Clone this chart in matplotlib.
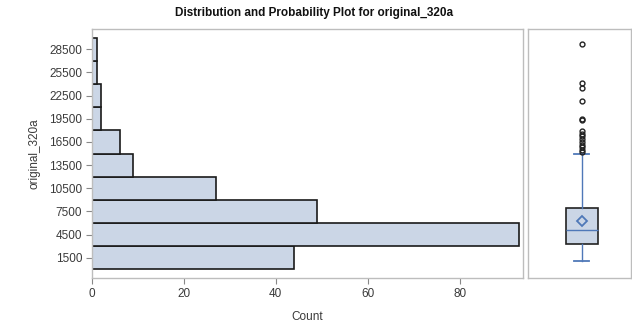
import matplotlib
matplotlib.use("Agg")
import matplotlib.pyplot as plt

# Histogram data
bin_centers = [1500, 4500, 7500, 10500, 13500, 16500, 19500, 22500, 25500, 28500]
counts = [44, 93, 49, 27, 9, 6, 2, 2, 1, 1]
bin_width = 3000
y_ticks = [1500, 4500, 7500, 10500, 13500, 16500, 19500, 22500, 25500, 28500]
x_ticks = [0, 20, 40, 60, 80]

# Box plot statistics
box_q1 = 3350
box_med = 5120
box_q3 = 8000
box_mean = 6280
whisker_lo = 1100
whisker_hi = 14950
outliers = [29150, 24100, 23450, 21800, 19500, 19300, 17900, 17550, 17200,
            16850, 16500, 16150, 15800, 15500, 15250]

plt.rcParams['font.family'] = ['Liberation Sans', 'DejaVu Sans']

fig = plt.figure(figsize=(6.32, 3.32), dpi=100)
fig.patch.set_facecolor('white')

fill = '#CBD6E6'
frame_col = '#BDBDBD'
text_col = '#3a3a3a'
blue = '#4F78B8'

ax = fig.add_axes([92/632, 1-278/332, 431/632, 249/332])
ax.barh(bin_centers, counts, height=bin_width, color=fill,
        edgecolor='#1a1a1a', linewidth=1.2, align='center')
ax.set_ylim(-1100, 31100)
ax.set_xlim(0, 93.8)
ax.set_yticks(y_ticks)
ax.set_yticklabels([str(v) for v in y_ticks])
ax.set_xticks(x_ticks)
ax.set_xticklabels([str(v) for v in x_ticks])
for s in ax.spines.values():
    s.set_color(frame_col)
    s.set_linewidth(1.0)
ax.tick_params(axis='both', colors='#888888', labelcolor=text_col,
               labelsize=8.5, length=4, width=0.8, pad=3)
ax.set_ylabel('original_320a', fontsize=8.5, color=text_col, labelpad=6)
ax.set_xlabel('Count', fontsize=8.5, color=text_col, labelpad=8)

# Box plot panel
ax2 = fig.add_axes([528/632, 1-278/332, 103/632, 249/332], sharey=ax)
stats = [dict(med=box_med, q1=box_q1, q3=box_q3, whislo=whisker_lo,
              whishi=whisker_hi, mean=box_mean, fliers=outliers)]
ax2.bxp(stats, positions=[0.52], widths=0.31, capwidths=0.15, patch_artist=True,
        showmeans=True, showfliers=True,
        boxprops=dict(facecolor=fill, edgecolor='#222222', linewidth=1.2),
        medianprops=dict(color=blue, linewidth=1.0),
        whiskerprops=dict(color=blue, linewidth=1.0),
        capprops=dict(color=blue, linewidth=1.3),
        meanprops=dict(marker='D', markerfacecolor='none',
                       markeredgecolor=blue, markersize=5.5, markeredgewidth=1.3),
        flierprops=dict(marker='o', markerfacecolor='none',
                        markeredgecolor='#222222', markersize=3.5,
                        markeredgewidth=1.0))
ax2.set_xlim(0, 1)
ax2.set_xticks([])
ax2.tick_params(axis='y', left=False, labelleft=False)
for s in ax2.spines.values():
    s.set_color(frame_col)
    s.set_linewidth(1.0)

fig.suptitle('Distribution and Probability Plot for original_320a',
             fontsize=8.5, fontweight='bold', color='#111111', x=314/632,
             y=1-13/332, va='center')

fig.savefig('out.png', dpi=100, facecolor='white')
